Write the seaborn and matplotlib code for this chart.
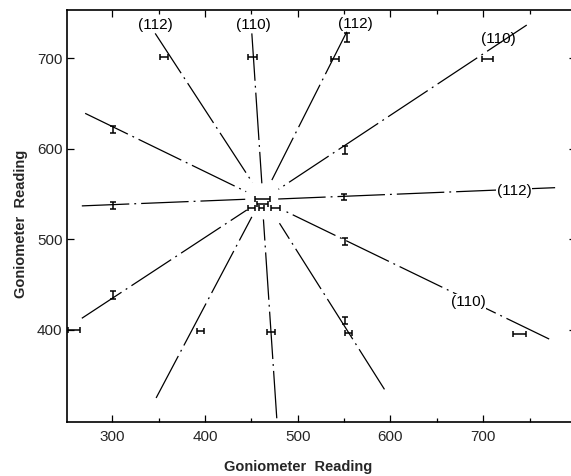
import matplotlib
matplotlib.use("Agg")
import matplotlib.pyplot as plt
import seaborn as sns
import pandas as pd
from matplotlib.ticker import MultipleLocator

# ---- data ----
# dash-dot lines: start (x0, y0) and end (x1, y1) in goniometer readings
line_ids = ["A", "B", "C", "D", "E1", "E2", "F", "G", "H", "I", "J", "K"]
line_x0 = [346.4, 450.6, 553.0, 747.0, 267.3, 479.0, 270.9, 267.3, 347.4, 477.5, 593.6, 771.2]
line_y0 = [727.2, 727.2, 729.0, 736.4, 536.9, 544.5, 639.0, 412.9, 325.0, 302.6, 334.5, 390.0]
line_x1 = [451.3, 461.4, 472.2, 479.3, 443.5, 777.6, 444.5, 445.2, 450.6, 463.1, 480.4, 487.6]
line_y1 = [562.5, 561.8, 565.4, 555.2, 544.2, 557.0, 552.6, 532.4, 524.8, 522.0, 517.8, 530.6]

# horizontal error bars
hbar_x = [356, 451, 540, 705, 259, 395, 471.5, 555, 739, 462, 462, 450, 461, 476]
hbar_y = [701, 701, 699, 699, 400, 399, 398, 397, 396, 545, 539.5, 534.5, 534.5, 534.5]
hbar_err = [4, 5, 4.5, 6, 6.5, 4, 4.5, 3.5, 7, 8, 6, 4, 3, 5]

# vertical error bars
vbar_x = [553, 301, 301, 551, 550, 551, 551, 301]
vbar_y = [722.5, 621, 537, 598.5, 547, 498, 410.5, 439]
vbar_err = [5, 4, 4, 4.5, 3.5, 4, 4, 4.5]

# plane labels
label_text = ["(112)", "(110)", "(112)", "(110)", "(112)", "(110)"]
label_x = [346.4, 452.5, 562.0, 716.5, 733.4, 683.8]
label_y = [737, 737, 738, 721, 553, 431]
label_box = [False, False, False, False, True, True]

x_ticks = [300, 400, 500, 600, 700]
y_ticks = [400, 500, 600, 700]
axis_title = "Goniometer  Reading"

# ---- figure ----
sns.set_style("ticks")
plt.rcParams["font.family"] = ["Liberation Sans", "DejaVu Sans"]

fig = plt.figure(figsize=(5.71, 4.76), dpi=100)
ax = fig.add_axes([66.7 / 571, (476 - 422) / 476, 509.2 / 571, 412 / 476])

dash = (0, (38, 4, 1.5, 4))
for i, lid in enumerate(line_ids):
    df = pd.DataFrame({"x": [line_x0[i], line_x1[i]], "y": [line_y0[i], line_y1[i]]})
    sns.lineplot(data=df, x="x", y="y", ax=ax, sort=False, estimator=None,
                 color="black", lw=0.9, linestyle=dash)

ax.errorbar(hbar_x, hbar_y, xerr=hbar_err, fmt="none", ecolor="black",
            elinewidth=1.1, capsize=2.2, capthick=1.1)
ax.errorbar(vbar_x, vbar_y, yerr=vbar_err, fmt="none", ecolor="black",
            elinewidth=1.1, capsize=2.2, capthick=1.1)

for t, x, y, b in zip(label_text, label_x, label_y, label_box):
    kw = dict(ha="center", va="center", fontsize=11, color="black")
    if b:
        kw["bbox"] = dict(facecolor="white", edgecolor="none", pad=0.5)
    ax.text(x, y, t, **kw)

ax.set_xlim(251, 800)
ax.set_ylim(298.5, 753)
ax.set_xticks(x_ticks)
ax.set_yticks(y_ticks)
ax.xaxis.set_minor_locator(MultipleLocator(50))
ax.tick_params(which="both", direction="in", top=True, right=True, width=0.9,
               color="black")
ax.tick_params(which="major", length=5, labelsize=11)
ax.tick_params(which="minor", length=3)
ax.tick_params(axis="x", pad=6)
ax.tick_params(axis="y", pad=3)
for s in ax.spines.values():
    s.set_linewidth(1.2)
    s.set_color("black")

ax.set_xlabel(axis_title, fontsize=10.5, fontweight="bold")
ax.set_ylabel(axis_title, fontsize=10.5, fontweight="bold")
ax.xaxis.set_label_coords((298.5 - 66.7) / 509.2, -(460 - 422) / 412)
ax.yaxis.set_label_coords((28 - 66.7) / 509.2, (422 - 223.5) / 412)

fig.savefig("out.png", dpi=100)
